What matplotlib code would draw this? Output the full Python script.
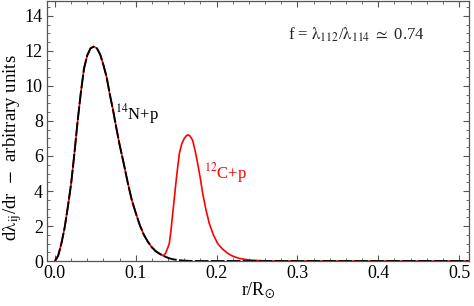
import matplotlib
matplotlib.use("Agg")
import matplotlib.pyplot as plt
from matplotlib.ticker import MultipleLocator

# values
# 14N+p rate profile (black dashed)
r_n14 = [0.000, 0.004, 0.008, 0.012, 0.016, 0.020, 0.024, 0.028, 0.032, 0.036,
         0.040, 0.044, 0.048, 0.052, 0.056, 0.060, 0.064, 0.068, 0.072, 0.076,
         0.080, 0.085, 0.090, 0.095, 0.100, 0.105, 0.110, 0.115, 0.120, 0.125,
         0.130, 0.135, 0.140, 0.145, 0.150, 0.155, 0.160, 0.170, 0.512]
y_n14 = [0.0, 0.3, 1.0, 1.9, 3.1, 4.4, 6.1, 7.95, 9.6, 11.0,
         11.75, 12.15, 12.25, 12.15, 11.8, 11.2, 10.5, 9.5, 8.6, 7.6,
         6.65, 5.6, 4.5, 3.5, 2.75, 2.05, 1.5, 1.1, 0.78, 0.55,
         0.4, 0.28, 0.18, 0.11, 0.07, 0.04, 0.02, 0.0, 0.0]

# 12C+p second bump (red), joins the 14N+p curve below r = 0.13
r_c12 = [0.134, 0.137, 0.140, 0.1415, 0.1435, 0.1457, 0.148, 0.150, 0.152, 0.154,
         0.157, 0.160, 0.163, 0.165, 0.167, 0.1704, 0.1735, 0.1766, 0.180, 0.1828,
         0.187, 0.191, 0.196, 0.2014, 0.207, 0.2137, 0.220, 0.228, 0.240, 0.255,
         0.270, 0.512]
y_c12 = [0.3, 0.45, 0.8, 1.0, 1.7, 2.7, 3.7, 4.6, 5.4, 6.15,
         6.7, 7.0, 7.18, 7.2, 7.15, 6.9, 6.3, 5.58, 4.7, 3.87,
         2.9, 2.15, 1.5, 1.0, 0.7, 0.44, 0.28, 0.15, 0.06, 0.02,
         0.0, 0.0]

n_join = 31  # points of the first peak shared by the red curve
r_red = r_n14[:n_join] + r_c12
y_red = y_n14[:n_join] + y_c12

plt.rcParams['font.family'] = ['Liberation Serif', 'DejaVu Serif']
plt.rcParams['mathtext.fontset'] = 'stix'

fig = plt.figure(figsize=(4.74, 3.06), dpi=100)
ax = fig.add_axes([0.099, 0.147, 0.8905, 0.85])

ax.plot(r_red, y_red, color='red', lw=1.2)
ax.plot(r_n14, y_n14, color='black', lw=1.4, dashes=(7, 1.2))

ax.set_xlim(-0.0099, 0.5124)
ax.set_ylim(0, 14.86)

ax.xaxis.set_major_locator(MultipleLocator(0.1))
ax.xaxis.set_minor_locator(MultipleLocator(0.02))
ax.yaxis.set_major_locator(MultipleLocator(2))
ax.yaxis.set_minor_locator(MultipleLocator(0.5))
ax.xaxis.set_major_formatter(plt.FuncFormatter(lambda v, p: f"{v:.1f}"))
ax.yaxis.set_major_formatter(plt.FuncFormatter(lambda v, p: f"{v:.0f}"))

frame = '#555555'
for s in ax.spines.values():
    s.set_color(frame)
    s.set_linewidth(0.9)
ax.tick_params(which='both', direction='in', top=True, right=True,
               color=frame, labelsize=13, pad=3)
ax.tick_params(which='major', length=4, width=0.8)
ax.tick_params(which='minor', length=2, width=0.6)

# axis labels placed by figure position
fig.text(13 / 474, 1 - 148 / 306,
         r"d$\mathrm{\lambda}_{\mathrm{ij}}$/dr  $-$  arbitrary units",
         fontsize=13.5, rotation=90, ha='center', va='center')
fig.text(258 / 474, 1 - 290 / 306, r"r/R$_{\odot}$", fontsize=13,
         ha='center', va='center')

ax.text(0.074, 8.4, r"$^{14}$N+p", fontsize=12, color='black', va='center')
ax.text(0.184, 5.05, r"$^{12}$C+p", fontsize=12, color='red', va='center')
ax.text(0.288, 12.9,
        r"f = $\mathrm{\lambda}_{112}$/$\mathrm{\lambda}_{114}$ $\simeq$ 0.74",
        fontsize=12, color='#222222', va='center')

fig.savefig("out.png", dpi=100)
